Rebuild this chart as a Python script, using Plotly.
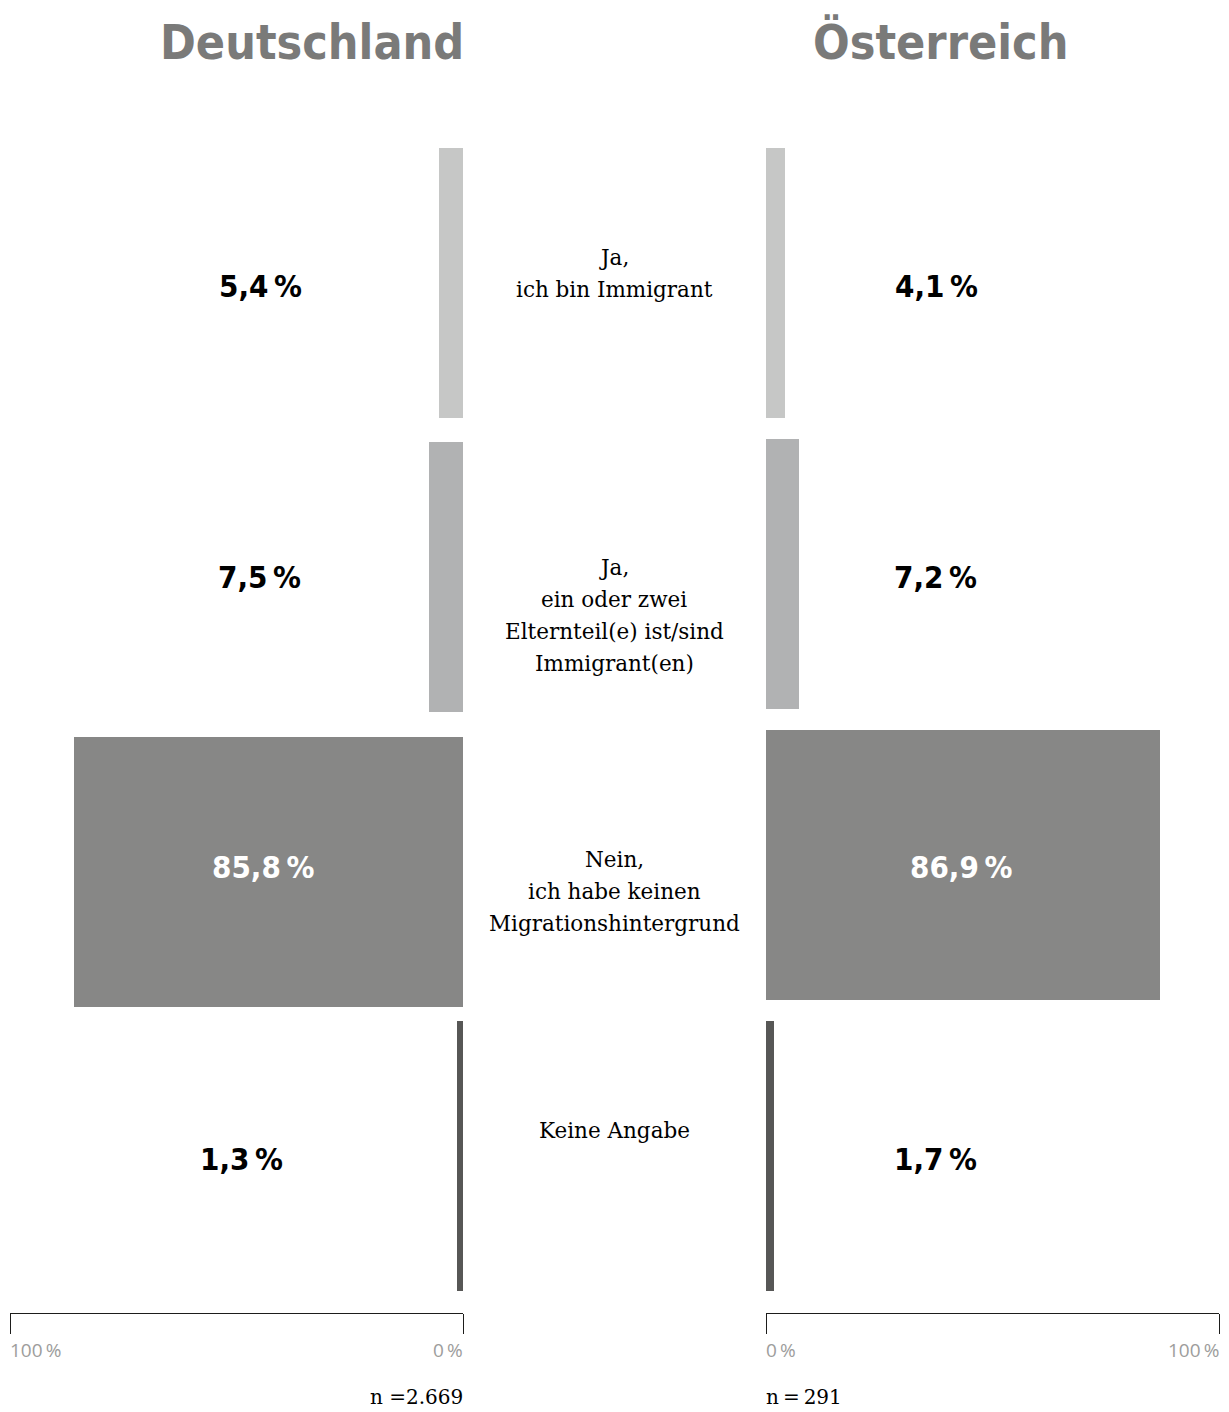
import plotly.graph_objects as go

# --- data -------------------------------------------------------------
categories = [
    "Ja,<br>ich bin Immigrant",
    "Ja,<br>ein oder zwei<br>Elternteil(e) ist/sind<br>Immigrant(en)",
    "Nein,<br>ich habe keinen<br>Migrationshintergrund",
    "Keine Angabe",
]
deutschland = [5.4, 7.5, 85.8, 1.3]
oesterreich = [4.1, 7.2, 86.9, 1.7]
n_deutschland = "2.669"
n_oesterreich = "291"
panel_titles = ["Deutschland", "Österreich"]

# --- styling / layout -------------------------------------------------
W, H = 1229, 1412
bar_colors = ["#c6c7c6", "#b1b2b3", "#878786", "#575756"]
title_color = "#7a7a79"
tick_color = "#9d9d9c"
axis_color = "#1d1d1b"

# vertical bar centres (y axis runs in pixel units from the top)
rows_de = [283, 577, 872, 1156]
rows_at = [283, 574, 865, 1156]
bar_height = 270
value_label_y = [286, 577, 867, 1159]
cat_label_y = [273, 615, 891, 1130]
cat_line_gap = 32
# horizontal positions (percent units) of the value labels
label_x_de = [44.6, 45.0, 44.2, 48.8]
label_x_at = [37.7, 37.5, 43.0, 37.5]
inside_bar = [False, False, True, False]
plot_bottom = 1313

TITLE_FONT = "DejaVu Sans Condensed, DejaVu Sans, sans-serif"
PCT_FONT = "DejaVu Sans Condensed, DejaVu Sans, sans-serif"
SERIF = "DejaVu Serif, serif"


def fmt(v):
    return f"{v:.1f}".replace(".", ",") + "\u2009%"


def px(x):
    return x / W


def py(y):
    return 1 - y / H


fig = go.Figure()

fig.add_trace(go.Bar(
    x=deutschland, y=rows_de, width=bar_height, orientation="h",
    marker=dict(color=bar_colors, line=dict(width=0)),
    xaxis="x", yaxis="y", hoverinfo="skip",
))
fig.add_trace(go.Bar(
    x=oesterreich, y=rows_at, width=bar_height, orientation="h",
    marker=dict(color=bar_colors, line=dict(width=0)),
    xaxis="x2", yaxis="y", hoverinfo="skip",
))

annotations = []

# value labels
for vals, lx, xref in ((deutschland, label_x_de, "x"), (oesterreich, label_x_at, "x2")):
    for i, v in enumerate(vals):
        annotations.append(dict(
            x=lx[i], y=value_label_y[i],
            xref=xref, yref="y", text=f"<b>{fmt(v)}</b>", showarrow=False,
            xanchor="center", yanchor="middle",
            font=dict(family=PCT_FONT, size=31,
                      color="white" if inside_bar[i] else "black"),
        ))

# category labels in the centre column, one annotation per line
for cat, cy in zip(categories, cat_label_y):
    lines = cat.split("<br>")
    for j, line in enumerate(lines):
        annotations.append(dict(
            x=px(614), y=cy + (j - (len(lines) - 1) / 2) * cat_line_gap,
            xref="paper", yref="y", text=line, showarrow=False,
            xanchor="center", yanchor="middle",
            font=dict(family=SERIF, size=21.5, color="black"),
        ))

# panel titles
for t, cx in zip(panel_titles, (312, 940)):
    annotations.append(dict(
        x=px(cx), y=py(42), xref="paper", yref="paper", text=f"<b>{t}</b>",
        showarrow=False, xanchor="center", yanchor="middle",
        font=dict(family=TITLE_FONT, size=48, color=title_color),
    ))

# scale labels under the axes
for txt, x, anchor in (("100\u2009%", 8, "left"), ("0\u2009%", 465, "right"),
                       ("0\u2009%", 764, "left"), ("100\u2009%", 1221, "right")):
    annotations.append(dict(
        x=px(x), y=py(1350), xref="paper", yref="paper", text=txt,
        showarrow=False, xanchor=anchor, yanchor="middle",
        font=dict(family="Open Sans, sans-serif", size=19, color=tick_color),
    ))

# sample sizes
annotations.append(dict(
    x=px(465), y=py(1397), xref="paper", yref="paper", text="n =" + n_deutschland,
    showarrow=False, xanchor="right", yanchor="middle",
    font=dict(family=SERIF, size=20, color="black"),
))
annotations.append(dict(
    x=px(764), y=py(1397), xref="paper", yref="paper", text="n\u2009=\u2009" + n_oesterreich,
    showarrow=False, xanchor="left", yanchor="middle",
    font=dict(family=SERIF, size=20, color="black"),
))

axis_common = dict(
    showgrid=False, zeroline=False, showline=True, linecolor=axis_color, linewidth=1,
    ticks="outside", ticklen=20, tickwidth=1, tickcolor=axis_color,
    tickvals=[0, 100], showticklabels=False, fixedrange=True,
)

fig.update_layout(
    width=W, height=H,
    margin=dict(l=0, r=0, t=0, b=0),
    paper_bgcolor="white", plot_bgcolor="white",
    showlegend=False, bargap=0,
    xaxis=dict(domain=[px(10), px(463)], range=[100, 0], anchor="y", **axis_common),
    xaxis2=dict(domain=[px(766), px(1219)], range=[0, 100], anchor="y", **axis_common),
    yaxis=dict(domain=[py(plot_bottom), 1], range=[plot_bottom, 0], visible=False,
               fixedrange=True),
    annotations=annotations,
)

fig.write_html("out.html")
